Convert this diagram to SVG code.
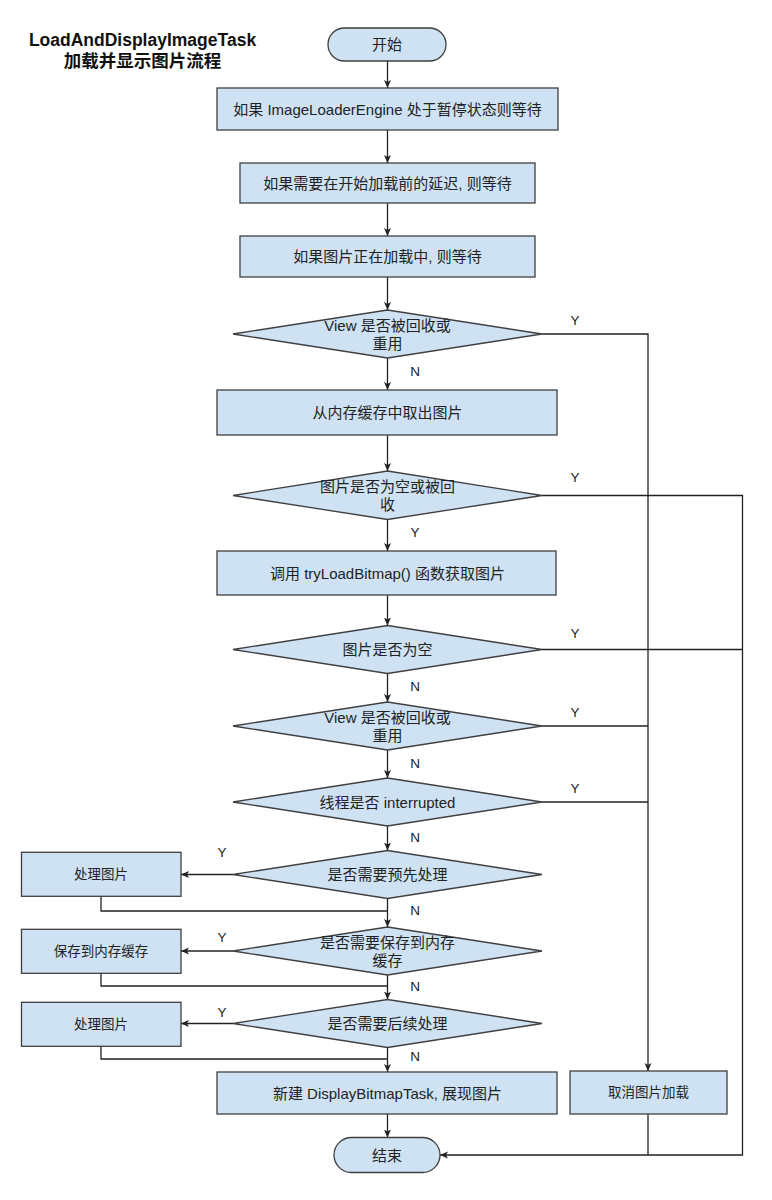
<svg xmlns="http://www.w3.org/2000/svg" width="772" height="1200" viewBox="0 0 772 1200">
<style>
.bg{fill:#ffffff}
.shape{fill:#cfe2f3;stroke:#3f3f3f;stroke-width:1.3}
.t{font-family:"Liberation Sans","Noto Sans CJK SC",sans-serif;font-size:15px;fill:#222;text-anchor:middle;dominant-baseline:central}
.s{font-size:13.5px}
.title{font-family:"Liberation Sans","Noto Sans CJK SC",sans-serif;font-size:17.5px;font-weight:bold;fill:#111;text-anchor:middle;dominant-baseline:central}
.lbl{font-family:"Liberation Sans",sans-serif;font-size:13.5px;fill:#222;text-anchor:middle;dominant-baseline:central}
.c{fill:none;stroke:#222;stroke-width:1.3}
.a{marker-end:url(#ah)}
</style>
<defs>
<marker id="ah" markerWidth="10" markerHeight="8" refX="8" refY="4" orient="auto" markerUnits="userSpaceOnUse">
<path d="M0,0.5 L8,4 L0,7.5 L2,4 z" fill="#222"/>
</marker>
</defs>
<rect class="bg" x="0" y="0" width="772" height="1200"/>
<g id="title">
<text class="title" x="142.5" y="40">LoadAndDisplayImageTask</text>
<text class="title" x="142.5" y="60.5">加载并显示图片流程</text>
</g>
<g id="connectors">
<path class="c a" d="M387.5,61 V88"/>
<path class="c a" d="M387.5,130 V163"/>
<path class="c a" d="M387.5,203 V236"/>
<path class="c a" d="M387.5,277 V310"/>
<path class="c a" d="M387.5,358 V390"/>
<path class="c a" d="M387.5,435 V471"/>
<path class="c a" d="M387.5,519.5 V551"/>
<path class="c a" d="M387.5,595 V625.5"/>
<path class="c a" d="M387.5,673.5 V702"/>
<path class="c a" d="M387.5,750 V778"/>
<path class="c a" d="M387.5,826 V850.5"/>
<path class="c a" d="M387.5,898.5 V927"/>
<path class="c a" d="M387.5,975 V999.5"/>
<path class="c a" d="M387.5,1047.5 V1072"/>
<path class="c a" d="M387.5,1114 V1137.5"/>
<path class="c a" d="M542,334 H648 V1071"/>
<path class="c" d="M542,726 H648"/>
<path class="c" d="M542,802 H648"/>
<path class="c a" d="M542,495.5 H742.5 V1155 H440"/>
<path class="c" d="M542,649.5 H742.5"/>
<path class="c" d="M648,1114 V1155"/>
<path class="c a" d="M233,874.5 H181"/>
<path class="c a" d="M233,951 H181"/>
<path class="c a" d="M233,1023.5 H181"/>
<path class="c" d="M101,896.3 V911 H387.5"/>
<path class="c" d="M101,973.3 V986 H387.5"/>
<path class="c" d="M101,1046.3 V1059 H387.5"/>
<text class="lbl" x="575" y="320">Y</text>
<text class="lbl" x="575" y="477">Y</text>
<text class="lbl" x="575" y="633">Y</text>
<text class="lbl" x="575" y="712">Y</text>
<text class="lbl" x="575" y="788">Y</text>
<text class="lbl" x="415" y="371">N</text>
<text class="lbl" x="415" y="532">Y</text>
<text class="lbl" x="415" y="686">N</text>
<text class="lbl" x="415" y="763">N</text>
<text class="lbl" x="415" y="837">N</text>
<text class="lbl" x="415" y="910">N</text>
<text class="lbl" x="415" y="986">N</text>
<text class="lbl" x="415" y="1056">N</text>
<text class="lbl" x="222" y="852">Y</text>
<text class="lbl" x="222" y="937">Y</text>
<text class="lbl" x="222" y="1012">Y</text>
</g>
<g id="start">
<rect class="shape" x="328" y="28" width="118" height="33" rx="16.5"/>
<text class="t" x="387" y="44.5">开始</text>
</g>
<g id="wait-paused">
<rect class="shape" x="217" y="88" width="341" height="42"/>
<text class="t" x="387.5" y="109">如果 ImageLoaderEngine 处于暂停状态则等待</text>
</g>
<g id="wait-delay">
<rect class="shape" x="240" y="163" width="295" height="40"/>
<text class="t" x="387.5" y="183">如果需要在开始加载前的延迟, 则等待</text>
</g>
<g id="wait-loading">
<rect class="shape" x="240" y="236" width="295" height="41"/>
<text class="t" x="387.5" y="256.5">如果图片正在加载中, 则等待</text>
</g>
<g id="view-reused-1">
<polygon class="shape" points="233,334 387.5,310 542,334 387.5,358"/>
<text class="t" x="387.5" y="325">View 是否被回收或</text>
<text class="t" x="387.5" y="343">重用</text>
</g>
<g id="get-from-cache">
<rect class="shape" x="217" y="390" width="340" height="45"/>
<text class="t" x="387.5" y="412.5">从内存缓存中取出图片</text>
</g>
<g id="bitmap-null-recycled">
<polygon class="shape" points="233,495.5 387.5,471 542,495.5 387.5,519.5"/>
<text class="t" x="387.5" y="486">图片是否为空或被回</text>
<text class="t" x="387.5" y="504.5">收</text>
</g>
<g id="try-load">
<rect class="shape" x="217" y="551" width="339" height="44"/>
<text class="t" x="387.5" y="573">调用 tryLoadBitmap() 函数获取图片</text>
</g>
<g id="bitmap-null">
<polygon class="shape" points="233,649.5 387.5,625.5 542,649.5 387.5,673.5"/>
<text class="t" x="387.5" y="649.5">图片是否为空</text>
</g>
<g id="view-reused-2">
<polygon class="shape" points="233,726 387.5,702 542,726 387.5,750"/>
<text class="t" x="387.5" y="717.5">View 是否被回收或</text>
<text class="t" x="387.5" y="735">重用</text>
</g>
<g id="interrupted">
<polygon class="shape" points="233,802 387.5,778 542,802 387.5,826"/>
<text class="t" x="387.5" y="802">线程是否 interrupted</text>
</g>
<g id="need-preprocess">
<polygon class="shape" points="233,874.5 387.5,850.5 542,874.5 387.5,898.5"/>
<text class="t" x="387.5" y="874.5">是否需要预先处理</text>
</g>
<g id="preprocess">
<rect class="shape" x="21.5" y="852.3" width="159.5" height="44"/>
<text class="t s" x="101" y="874.3">处理图片</text>
</g>
<g id="need-cache">
<polygon class="shape" points="233,951 387.5,927 542,951 387.5,975"/>
<text class="t" x="387.5" y="942">是否需要保存到内存</text>
<text class="t" x="387.5" y="960.5">缓存</text>
</g>
<g id="save-cache">
<rect class="shape" x="21.5" y="929.3" width="159.5" height="44"/>
<text class="t s" x="101" y="951.3">保存到内存缓存</text>
</g>
<g id="need-postprocess">
<polygon class="shape" points="233,1023.5 387.5,999.5 542,1023.5 387.5,1047.5"/>
<text class="t" x="387.5" y="1023.5">是否需要后续处理</text>
</g>
<g id="postprocess">
<rect class="shape" x="21.5" y="1002.3" width="159.5" height="44"/>
<text class="t s" x="101" y="1024.3">处理图片</text>
</g>
<g id="display-task">
<rect class="shape" x="217" y="1072" width="340" height="42"/>
<text class="t" x="387.5" y="1093">新建 DisplayBitmapTask, 展现图片</text>
</g>
<g id="cancel">
<rect class="shape" x="570" y="1071" width="157" height="43"/>
<text class="t s" x="648.5" y="1092.5">取消图片加载</text>
</g>
<g id="end">
<rect class="shape" x="334" y="1137.5" width="106" height="35" rx="17.5"/>
<text class="t" x="387" y="1155">结束</text>
</g>
</svg>
